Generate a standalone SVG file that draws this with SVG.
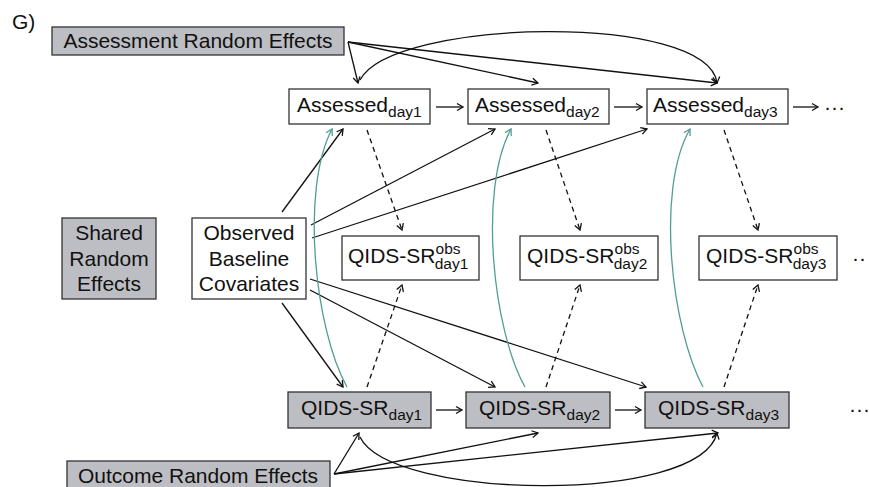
<svg xmlns="http://www.w3.org/2000/svg" width="869" height="487" viewBox="0 0 869 487">
  <style>
    text { font-family: "Liberation Sans", Arial, sans-serif; font-size: 21px; fill: #111; }
    .sub { font-size: 15.5px; }
    .box { fill: #fff; stroke: #333; stroke-width: 1.3; }
    .gray { fill: #bdbec3; stroke: #333; stroke-width: 1.3; }
    .edge { fill: none; stroke: #111; stroke-width: 1.3; marker-end: url(#arr); }
    .dash { stroke-dasharray: 5 4; }
    .teal { fill: none; stroke: #4f9e92; stroke-width: 1.3; marker-end: url(#arrT); }
    .dots { letter-spacing: 0px; }
  </style>
  <defs>
    <marker id="arr" viewBox="-8 -5 10 10" markerWidth="10" markerHeight="10" markerUnits="userSpaceOnUse" orient="auto" refX="0" refY="0">
      <path d="M-6,-3.5 L0,0 L-6,3.5" fill="none" stroke="#111" stroke-width="1.3"/>
    </marker>
    <marker id="arrT" viewBox="-8 -5 10 10" markerWidth="10" markerHeight="10" markerUnits="userSpaceOnUse" orient="auto" refX="0" refY="0">
      <path d="M-6,-3.5 L0,0 L-6,3.5" fill="none" stroke="#4f9e92" stroke-width="1.3"/>
    </marker>
  </defs>

  <text x="12" y="29">G)</text>

  <!-- connectors -->
  <g id="connectors">
    <!-- assessment random effects -->
    <line class="edge" x1="348" y1="42" x2="358" y2="83"/>
    <line class="edge" x1="348" y1="42" x2="538" y2="83"/>
    <line class="edge" x1="348" y1="42" x2="717" y2="83"/>
    <path class="edge" d="M360,80 C392,18 708,12 717,83"/>
    <!-- assessed chain -->
    <line class="edge" x1="436" y1="107" x2="463" y2="107"/>
    <line class="edge" x1="614" y1="107" x2="642" y2="107"/>
    <line class="edge" x1="793" y1="107" x2="818" y2="107"/>
    <!-- outcome chain -->
    <line class="edge" x1="436" y1="410" x2="462" y2="410"/>
    <line class="edge" x1="615" y1="410" x2="641" y2="410"/>
    <!-- baseline covariates -->
    <line class="edge" x1="282" y1="212" x2="343" y2="129"/>
    <line class="edge" x1="311" y1="225" x2="495" y2="129"/>
    <line class="edge" x1="312" y1="238" x2="647" y2="129"/>
    <line class="edge" x1="282" y1="303" x2="343" y2="387"/>
    <line class="edge" x1="310" y1="290" x2="495" y2="387"/>
    <line class="edge" x1="310" y1="279" x2="646" y2="387"/>
    <!-- observation (dashed) -->
    <line class="edge dash" x1="367" y1="130" x2="402" y2="230"/>
    <line class="edge dash" x1="546" y1="130" x2="580" y2="230"/>
    <line class="edge dash" x1="724" y1="130" x2="758" y2="230"/>
    <line class="edge dash" x1="367" y1="387" x2="402" y2="285"/>
    <line class="edge dash" x1="546" y1="387" x2="580" y2="285"/>
    <line class="edge dash" x1="724" y1="387" x2="758" y2="285"/>
    <!-- outcome to assessment (teal) -->
    <path class="teal" d="M347,387 C315,330 300,190 332,129"/>
    <path class="teal" d="M525,387 C493,330 478,190 511,129"/>
    <path class="teal" d="M703,387 C672,330 655,190 690,129"/>
    <!-- outcome random effects -->
    <line class="edge" x1="334" y1="474" x2="359" y2="433"/>
    <line class="edge" x1="334" y1="474" x2="538" y2="433"/>
    <line class="edge" x1="334" y1="474" x2="718" y2="433"/>
    <path class="edge" d="M360,437 C390,500 700,505 717,433"/>
  </g>

  <g id="assessment-re">
    <rect class="gray" x="52" y="27" width="292" height="28"/>
    <text x="198" y="48" text-anchor="middle">Assessment Random Effects</text>
  </g>

  <g id="assessed1">
    <rect class="box" x="289" y="89" width="141" height="35"/>
    <text x="297" y="112">Assessed<tspan class="sub" dy="5">day1</tspan></text>
  </g>
  <g id="assessed2">
    <rect class="box" x="468" y="89" width="141" height="35"/>
    <text x="475" y="112">Assessed<tspan class="sub" dy="5">day2</tspan></text>
  </g>
  <g id="assessed3">
    <rect class="box" x="647" y="89" width="141" height="35"/>
    <text x="653" y="112">Assessed<tspan class="sub" dy="5">day3</tspan></text>
  </g>
  <text class="dots" x="824" y="114">···</text>

  <g id="shared-re">
    <rect class="gray" x="62" y="218" width="94" height="81"/>
    <text x="109" y="240" text-anchor="middle">Shared</text>
    <text x="109" y="266" text-anchor="middle">Random</text>
    <text x="109" y="291" text-anchor="middle">Effects</text>
  </g>

  <g id="baseline">
    <rect class="box" x="192" y="218" width="114" height="81"/>
    <text x="249" y="240" text-anchor="middle">Observed</text>
    <text x="249" y="266" text-anchor="middle">Baseline</text>
    <text x="249" y="291" text-anchor="middle">Covariates</text>
  </g>

  <g id="obs1">
    <rect class="box" x="342" y="236" width="137" height="44"/>
    <text x="348" y="263">QIDS-SR<tspan class="sub" font-size="16" dy="-9">obs</tspan><tspan class="sub" dx="-25.8" dy="15">day1</tspan></text>
  </g>
  <g id="obs2">
    <rect class="box" x="520" y="236" width="138" height="44"/>
    <text x="527" y="263">QIDS-SR<tspan class="sub" font-size="16" dy="-9">obs</tspan><tspan class="sub" dx="-25.8" dy="15">day2</tspan></text>
  </g>
  <g id="obs3">
    <rect class="box" x="699" y="236" width="138" height="44"/>
    <text x="706" y="263">QIDS-SR<tspan class="sub" font-size="16" dy="-9">obs</tspan><tspan class="sub" dx="-25.8" dy="15">day3</tspan></text>
  </g>
  <text class="dots" x="852" y="265">··</text>

  <g id="qids1">
    <rect class="gray" x="288" y="392" width="143" height="36"/>
    <text x="301" y="415">QIDS-SR<tspan class="sub" dy="5">day1</tspan></text>
  </g>
  <g id="qids2">
    <rect class="gray" x="466" y="392" width="144" height="36"/>
    <text x="479" y="415">QIDS-SR<tspan class="sub" dy="5">day2</tspan></text>
  </g>
  <g id="qids3">
    <rect class="gray" x="645" y="392" width="144" height="36"/>
    <text x="658" y="415">QIDS-SR<tspan class="sub" dy="5">day3</tspan></text>
  </g>
  <text class="dots" x="849" y="416" letter-spacing="-0.5">···</text>

  <g id="outcome-re">
    <rect class="gray" x="67" y="461" width="263" height="34"/>
    <text x="198" y="483" text-anchor="middle">Outcome Random Effects</text>
  </g>
</svg>
